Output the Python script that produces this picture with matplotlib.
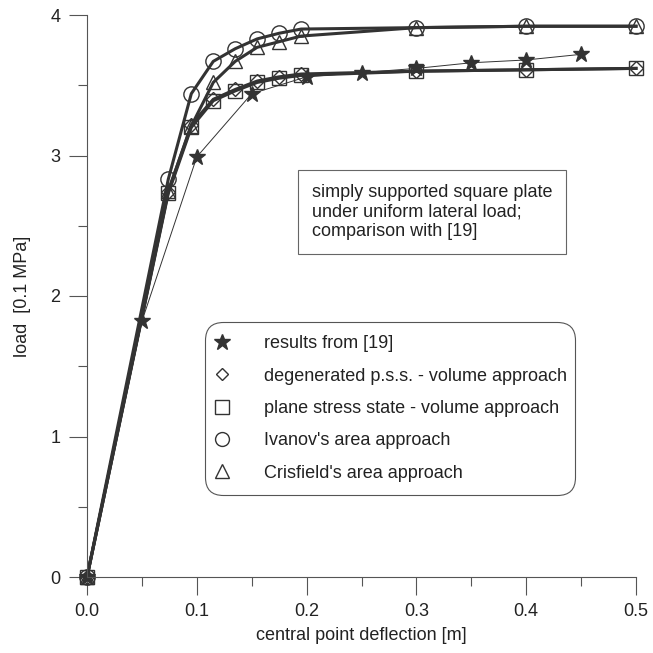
import numpy as np
import matplotlib.pyplot as plt
from matplotlib.lines import Line2D

plt.rcParams['font.family'] = ['Liberation Sans', 'DejaVu Sans']

# === Данные ===
x_ref = [0.0, 0.05, 0.10, 0.15, 0.20, 0.25, 0.30, 0.35, 0.40, 0.45]
y_ref = [0.0, 1.82, 2.99, 3.44, 3.56, 3.59, 3.62, 3.66, 3.68, 3.72]

x_fem = [0.0, 0.074, 0.095, 0.115, 0.135, 0.155, 0.175, 0.195, 0.30, 0.40, 0.50]
y_degen = [0.0, 2.74, 3.22, 3.40, 3.47, 3.53, 3.56, 3.58, 3.60, 3.61, 3.62]
y_plane = [0.0, 2.73, 3.20, 3.39, 3.46, 3.52, 3.55, 3.57, 3.60, 3.61, 3.62]
y_ivanov = [0.0, 2.83, 3.44, 3.67, 3.76, 3.83, 3.87, 3.90, 3.91, 3.92, 3.92]
y_crisf = [0.0, 2.75, 3.21, 3.52, 3.67, 3.77, 3.81, 3.85, 3.91, 3.92, 3.92]

labels = ['results from [19]',
          'degenerated p.s.s. - volume approach',
          'plane stress state - volume approach',
          "Ivanov's area approach",
          "Crisfield's area approach"]

c = '#333333'
tc = '#222222'
fs = 13

fig = plt.figure(figsize=(6.53, 6.53), dpi=100)
ax = fig.add_axes([87 / 653, 1 - 577 / 653, 549 / 653, 562 / 653])

mk = dict(color=c, markerfacecolor='none', markeredgecolor=c, clip_on=False)
ax.plot(x_fem, y_crisf, marker='^', ms=10, lw=2.2, mew=1, **mk)
ax.plot(x_fem, y_ivanov, marker='o', ms=11, lw=2.2, mew=1, **mk)
ax.plot(x_fem, y_plane, marker='s', ms=10, lw=2.2, mew=1, **mk)
ax.plot(x_fem, y_degen, marker='D', ms=7, lw=2.2, mew=1, **mk)
ax.plot(x_ref, y_ref, marker='*', ms=12, lw=0.7, color=c,
        markerfacecolor=c, markeredgecolor=c, clip_on=False)

ax.set_xlim(0, 0.5)
ax.set_ylim(0, 4)
ax.set_xticks(np.arange(0, 0.51, 0.1))
ax.set_xticks(np.arange(0.05, 0.5, 0.1), minor=True)
ax.set_yticks(np.arange(0, 4.1, 1))
ax.set_yticks(np.arange(0.5, 4, 1), minor=True)
ax.set_xticklabels(['0.0', '0.1', '0.2', '0.3', '0.4', '0.5'])
ax.set_yticklabels(['0', '1', '2', '3', '4'])
ax.tick_params(which='major', direction='out', length=13, width=0.8,
               color='#555555', labelsize=fs, labelcolor=tc, pad=6)
ax.tick_params(which='minor', direction='out', length=6.5, width=0.8,
               color='#555555')
for s in ['top', 'right']:
    ax.spines[s].set_visible(False)
for s in ['left', 'bottom']:
    ax.spines[s].set_color('#555555')
    ax.spines[s].set_linewidth(0.8)

ax.set_xlabel('central point deflection [m]', fontsize=fs, color=tc, labelpad=5)
ax.set_ylabel('load  [0.1 MPa]', fontsize=fs, color=tc, labelpad=14)

# === Подпись ===
ax.text((312 - 87) / 1098, (577 - 212) / 140.5,
        'simply supported square plate\nunder uniform lateral load;\ncomparison with [19]',
        fontsize=fs, color=tc, va='center', ha='left', linespacing=1.2,
        bbox=dict(boxstyle='square,pad=0.75', facecolor='white',
                  edgecolor='#666666', linewidth=0.8))

# === Легенда ===
handles = [
    Line2D([], [], ls='none', marker='*', ms=12, color=c),
    Line2D([], [], ls='none', marker='D', ms=6, mfc='none', mec=c),
    Line2D([], [], ls='none', marker='s', ms=10, mfc='none', mec=c),
    Line2D([], [], ls='none', marker='o', ms=10, mfc='none', mec=c),
    Line2D([], [], ls='none', marker='^', ms=10, mfc='none', mec=c),
]
leg = ax.legend(handles, labels, loc='upper left',
                bbox_to_anchor=(0.215, 0.454, 0.674, 0.0), mode='expand',
                fontsize=fs, frameon=True, fancybox=True, labelspacing=0.85,
                handlelength=0.4, handletextpad=2.1, borderpad=0.75,
                borderaxespad=0)
frame = leg.get_frame()
frame.set_boxstyle('round,pad=0,rounding_size=1.0')
frame.set_edgecolor('#555555')
frame.set_linewidth(0.8)
frame.set_alpha(1)
for t in leg.get_texts():
    t.set_color(tc)

fig.savefig('out.png', dpi=100, facecolor='white')
